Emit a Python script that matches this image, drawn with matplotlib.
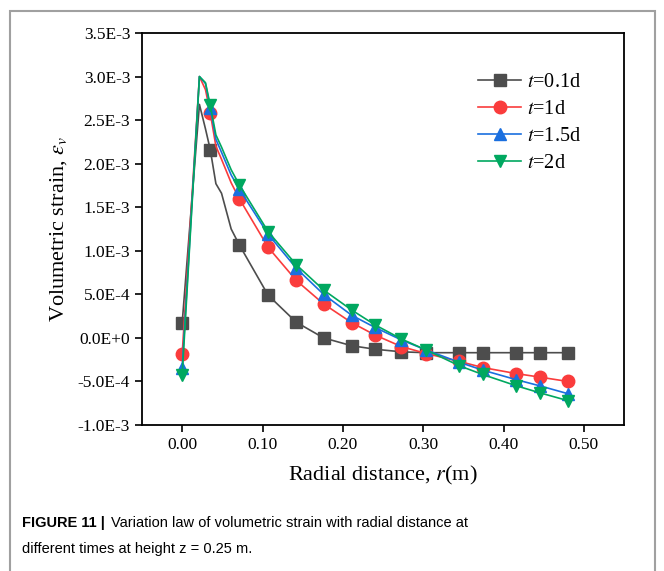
import matplotlib.pyplot as plt
from matplotlib.patches import Rectangle

# radial distance (m)
r = [0, 0.0215, 0.029, 0.035, 0.042, 0.049, 0.061, 0.071, 0.107, 0.142,
     0.176, 0.211, 0.240, 0.273, 0.304, 0.345, 0.374, 0.416, 0.445, 0.480]
# indices where markers are drawn
mark_idx = [0, 3, 7, 8, 9, 10, 11, 12, 13, 14, 15, 16, 17, 18, 19]

ev_01d = [1.7e-4, 2.68e-3, 2.40e-3, 2.16e-3, 1.77e-3, 1.66e-3, 1.25e-3, 1.07e-3, 4.9e-4, 1.8e-4,
          0.0, -9e-5, -1.3e-4, -1.6e-4, -1.7e-4, -1.7e-4, -1.7e-4, -1.7e-4, -1.7e-4, -1.7e-4]
ev_1d = [-1.9e-4, 3.0e-3, 2.85e-3, 2.58e-3, 2.20e-3, 2.05e-3, 1.78e-3, 1.60e-3, 1.04e-3, 6.6e-4,
         3.9e-4, 1.75e-4, 3.3e-5, -1.0e-4, -1.8e-4, -2.7e-4, -3.4e-4, -4.1e-4, -4.5e-4, -5.0e-4]
ev_15d = [-3.5e-4, 3.0e-3, 2.92e-3, 2.64e-3, 2.28e-3, 2.13e-3, 1.87e-3, 1.71e-3, 1.19e-3, 8.0e-4,
          5.0e-4, 2.6e-4, 1.2e-4, -2.4e-5, -1.4e-4, -2.8e-4, -3.7e-4, -4.8e-4, -5.5e-4, -6.4e-4]
ev_2d = [-4.3e-4, 3.0e-3, 2.93e-3, 2.67e-3, 2.33e-3, 2.19e-3, 1.93e-3, 1.76e-3, 1.22e-3, 8.4e-4,
         5.5e-4, 3.2e-4, 1.5e-4, -1.3e-5, -1.4e-4, -3.2e-4, -4.2e-4, -5.5e-4, -6.3e-4, -7.2e-4]

series = [
    (ev_01d, r'$t$=0.1d', '#4D4D4D', 's'),
    (ev_1d, r'$t$=1d', '#FA3C3C', 'o'),
    (ev_15d, r'$t$=1.5d', '#1A6FDF', '^'),
    (ev_2d, r'$t$=2d', '#00A860', 'v'),
]

yticks = [-1.0e-3, -5.0e-4, 0.0, 5.0e-4, 1.0e-3, 1.5e-3, 2.0e-3, 2.5e-3, 3.0e-3, 3.5e-3]
ytick_labels = ['-1.0E-3', '-5.0E-4', '0.0E+0', '5.0E-4', '1.0E-3',
                '1.5E-3', '2.0E-3', '2.5E-3', '3.0E-3', '3.5E-3']
xticks = [0.0, 0.1, 0.2, 0.3, 0.4, 0.5]
xtick_labels = ['0.00', '0.10', '0.20', '0.30', '0.40', '0.50']

plt.rcParams['font.family'] = ['Liberation Serif', 'DejaVu Serif']
plt.rcParams['mathtext.fontset'] = 'stix'

fig = plt.figure(figsize=(6.64, 5.71), dpi=100)
ax = fig.add_axes([142 / 664, 1 - 425 / 571, (624 - 142) / 664, (425 - 33) / 571])

for ev, label, color, marker in series:
    ax.plot(r, ev, color=color, marker=marker, markevery=mark_idx, markersize=9,
            linewidth=1.2, label=label)

ax.set_xlim(-0.05, 0.55)
ax.set_ylim(-1.0e-3, 3.5e-3)
ax.set_xticks(xticks)
ax.set_xticklabels(xtick_labels)
ax.set_yticks(yticks)
ax.set_yticklabels(ytick_labels)
ax.tick_params(direction='out', length=5, width=1.2, labelsize=12.5, top=False, right=False)
for sp in ax.spines.values():
    sp.set_linewidth(1.3)

ax.set_xlabel(r'Radial distance, $r$(m)', fontsize=16, labelpad=8)
ax.set_ylabel(r'Volumetric strain, $\varepsilon_v$', fontsize=16, labelpad=6)

ax.legend(loc='upper right', bbox_to_anchor=(0.948, 0.945), frameon=False, fontsize=14.5,
          handlelength=2.1, handletextpad=0.3, labelspacing=0.4)

# gray frame around figure and caption
fig.patches.append(Rectangle((10 / 664, -0.1), (655 - 10) / 664, 1.1 - 11 / 571,
                             transform=fig.transFigure, fill=False,
                             edgecolor='#A0A0A0', linewidth=1.5))

cap_font = ['Liberation Sans', 'DejaVu Sans']
fig.text(22 / 664, 1 - 527 / 571, 'FIGURE 11 |', family=cap_font, fontweight='bold',
         fontsize=10.5, va='baseline')
fig.text(111 / 664, 1 - 527 / 571,
         'Variation law of volumetric strain with radial distance at',
         family=cap_font, fontsize=10.5, va='baseline')
fig.text(22 / 664, 1 - 553 / 571, 'different times at height z = 0.25 m.',
         family=cap_font, fontsize=10.5, va='baseline')

fig.savefig('out.png', dpi=100)
